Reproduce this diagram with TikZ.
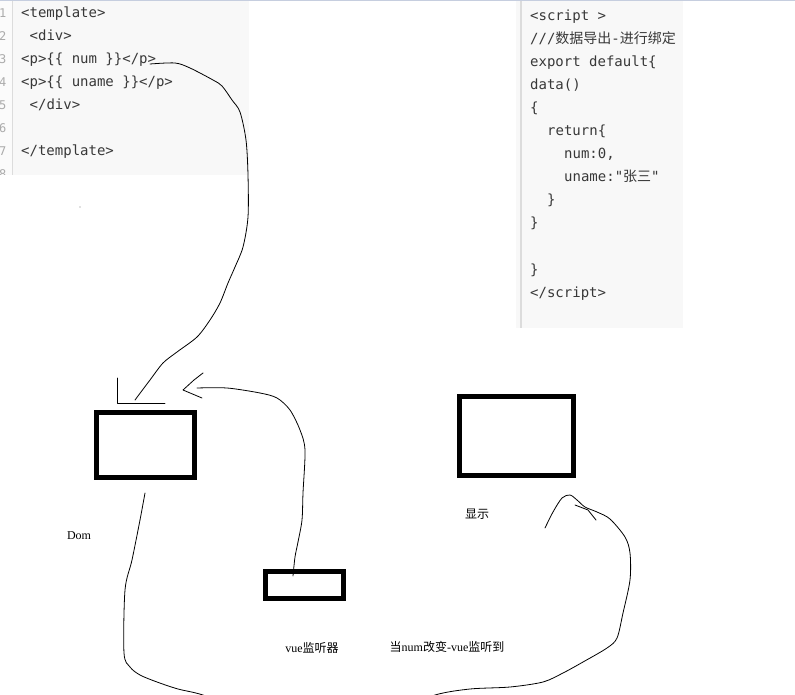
\documentclass[tikz,border=0pt]{standalone}
\usepackage{fontspec}
\setmainfont{Liberation Serif}
\setmonofont{DejaVu Sans Mono}
\newfontfamily\cjk{Noto Sans CJK SC}
\usepackage{xcolor}
\definecolor{panelgray}{HTML}{F8F8F8}
\definecolor{gutter}{HTML}{FBFBFB}
\definecolor{rulegray}{HTML}{DCDCDC}
\definecolor{topline}{HTML}{C6CEDF}
\definecolor{codetext}{HTML}{383838}
\definecolor{linenogray}{HTML}{ABABAB}

\begin{document}
\begin{tikzpicture}[x=1pt,y=-1pt,
		box/.style={draw, line width=4.6pt, inner sep=0pt},
		hand/.style={line width=0.8pt, line join=round, line cap=round},
		code/.style={anchor=base west, inner sep=0pt, text=codetext, font=\ttfamily\fontsize{14}{16}\selectfont},
		lineno/.style={anchor=base east, inner sep=0pt, text=linenogray, font=\ttfamily\fontsize{12}{14}\selectfont},
		tag/.style={inner sep=0pt, font=\fontsize{12}{14}\selectfont}]
				\useasboundingbox (0,0) rectangle (795,695);
				\fill [white] (0,0) rectangle (795,695);
				% template panel
				\fill [panelgray] (0,0) rectangle (249,175);
				\fill [gutter] (0,0) rectangle (12,175);
				\draw [rulegray, line width = 1pt] (12.5,0) -- (12.5,175);
				\begin{scope}
					\clip (0,0) rectangle (249,175);
					\node [lineno] (n1) at (6.5,18) {1};
					\node [lineno] (n2) at (6.5,41) {2};
					\node [lineno] (n3) at (6.5,64) {3};
					\node [lineno] (n4) at (6.5,87) {4};
					\node [lineno] (n5) at (6.5,110) {5};
					\node [lineno] (n6) at (6.5,133) {6};
					\node [lineno] (n7) at (6.5,156) {7};
					\node [lineno] (n8) at (6.5,179) {8};
				\end{scope}
				\node [code] (t1) at (21,18) {<template>};
				\node [code] (t2) at (29.5,41) {<div>};
				\node [code] (t3) at (21,64) {<p>\{\{ num \}\}</p>};
				\node [code] (t4) at (21,87) {<p>\{\{ uname \}\}</p>};
				\node [code] (t5) at (29.5,110) {</div>};
				\node [code] (t7) at (21,156) {</template>};
				% script panel
				\fill [panelgray] (516,0) rectangle (683,328);
				\draw [rulegray, line width = 1.5pt] (521,0) -- (521,328);
				\node [code] (s1) at (530,21) {<script >};
				\node [code] (s2) at (530,44) {///{\cjk 数据导出}-{\cjk 进行绑定}};
				\node [code] (s3) at (530,67) {export default\{};
				\node [code] (s4) at (530,90) {data()};
				\node [code] (s5) at (530,113) {\{};
				\node [code] (s6) at (547,136) {return\{};
				\node [code] (s7) at (564,159) {num:0,};
				\node [code] (s8) at (564,182) {uname:"{\cjk 张三}"};
				\node [code] (s9) at (547,205) {\}};
				\node [code] (s10) at (530,228) {\}};
				\node [code] (s12) at (530,274) {\}};
				\node [code] (s13) at (530,297) {</script>};
				\draw [topline, line width = 1pt] (0,0.5) -- (795,0.5);
				\fill [gray] (80,207) circle (0.7);
				% boxes
				\node [box, minimum width=97.8pt, minimum height=65.4pt] (dom) at (145.5,445) {};
				\node [box, minimum width=78.1pt, minimum height=26.8pt] (vue) at (304.7,585) {};
				\node [box, minimum width=113.8pt, minimum height=78.8pt] (show) at (516.5,436) {};
				\node [tag] (domlabel) at (79,536) {Dom};
				\node [tag] (vuelabel) at (312,648) {vue{\cjk 监听器}};
				\node [tag] (showlabel) at (477,514) {{\cjk 显示}};
				\node [tag] (changelabel) at (447,647) {{\cjk 当}num{\cjk 改变}-vue{\cjk 监听到}};
				% hand drawn connectors
				\coordinate (numtag) at (150,64);
				\coordinate (domtop) at (135,400);
				\coordinate (vuetip) at (293,576);
				\coordinate (domtip) at (197,388);
				\coordinate (dombottom) at (145,493);
				\coordinate (showtip) at (545,528);
				\draw [hand] plot [smooth, tension=0.5] coordinates {(numtag) (175,63) (190,68) (213,80) (222,86) (232,100) (240,112) (246,140) (248,175) (248,217) (243,247) (235,267) (228,283) (220,303) (210,320) (197,337) (177,352) (163,363) (150,380) (domtop)};
				\draw [hand] (117,378) -- (117,403) -- (165,403);
				\draw [hand] plot [smooth, tension=0.5] coordinates {(vuetip) (295,557) (298,542) (302,520) (303,493) (305,450) (300,430) (290,410) (277,398) (260,393) (227,388) (domtip)};
				\draw [hand] (203,373) -- (194,380) -- (183,390) -- (202,398);
				\draw [hand] plot [smooth, tension=0.5] coordinates {(dombottom) (140,520) (132,560) (125,590) (124,653) (130,667) (140,675) (157,682) (178,689) (203,695) (250,712) (320,720) (390,712) (435,695) (470,689) (510,687) (543,682) (563,673) (583,662) (607,648) (617,638) (623,613) (630,580) (630,553) (625,537) (610,519) (597,512) (585,507) (577,500) (570,495) (562,498) (553,512) (showtip)};
				\draw [hand] (575,505) -- (588,510) -- (596,520);
			\end{tikzpicture}
\end{document}
